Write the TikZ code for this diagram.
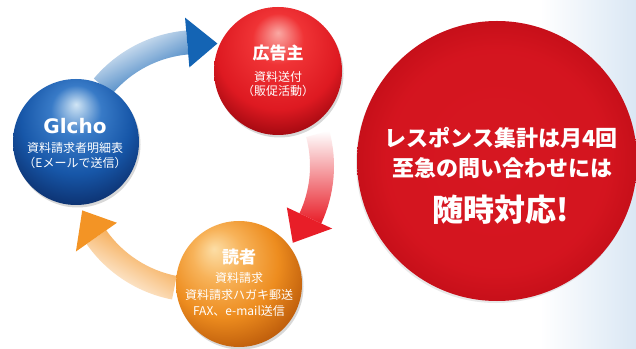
\documentclass[tikz,border=0pt]{standalone}
\usepackage{fontspec}
\setmainfont{Noto Sans CJK JP}
\newfontfamily\jph{Noto Sans CJK JP}[RawFeature=+halt]
\newfontfamily\logofont{DejaVu Sans}
\usetikzlibrary{shadows}
\definecolor{arblue}{RGB}{20,100,180}
\definecolor{arred}{RGB}{232,30,40}
\definecolor{arorange}{RGB}{243,148,37}
\definecolor{bigred}{RGB}{212,22,32}
\definecolor{bgblue}{RGB}{218,231,244}
\pgfdeclareradialshading{redball}{\pgfpoint{0bp}{15bp}}{%
  rgb(0bp)=(0.98,0.66,0.64);
  rgb(10bp)=(0.94,0.20,0.21);
  rgb(24bp)=(0.87,0.10,0.13);
  rgb(33bp)=(0.62,0.03,0.06);
  rgb(41bp)=(0.42,0,0.02);
  rgb(60bp)=(0.42,0,0.02)}
\pgfdeclareradialshading{blueball}{\pgfpoint{0bp}{15bp}}{%
  rgb(0bp)=(0.82,0.90,0.96);
  rgb(10bp)=(0.22,0.48,0.78);
  rgb(22bp)=(0.09,0.34,0.66);
  rgb(32bp)=(0.05,0.20,0.45);
  rgb(41bp)=(0.02,0.12,0.32);
  rgb(60bp)=(0.02,0.12,0.32)}
\pgfdeclareradialshading{orangeball}{\pgfpoint{-10bp}{14bp}}{%
  rgb(0bp)=(0.99,0.87,0.65);
  rgb(10bp)=(0.97,0.70,0.35);
  rgb(22bp)=(0.93,0.55,0.12);
  rgb(32bp)=(0.76,0.38,0.05);
  rgb(44bp)=(0.55,0.25,0.02);
  rgb(60bp)=(0.55,0.25,0.02)}
\pgfdeclareradialshading{bigredshade}{\pgfpoint{0bp}{0bp}}{%
  rgb(0bp)=(0.84,0.09,0.13);
  rgb(20bp)=(0.83,0.08,0.12);
  rgb(25bp)=(0.78,0.06,0.10);
  rgb(50bp)=(0.78,0.06,0.10)}
\tikzset{
  ball/.style={circle, inner sep=0pt, minimum size=#1,
    drop shadow={opacity=0.25, fill=black!60, shadow xshift=1.5pt, shadow yshift=-2.5pt}},
  head/.style={font=\bfseries\fontsize{17pt}{19pt}\selectfont, text=white, inner sep=0pt},
  sub/.style={font=\fontsize{12pt}{14pt}\selectfont, text=white, inner sep=0pt},
  subh/.style={font=\jph\fontsize{12pt}{14pt}\selectfont, text=white, inner sep=0pt},
  big/.style={font=\bfseries\fontsize{22pt}{24pt}\selectfont, text=white, inner sep=0pt},
}
\begin{document}
\begin{tikzpicture}[x=1pt,y=1pt]
\useasboundingbox (0,0) rectangle (636,348);
\fill[white] (0,0) rectangle (636,348);
\shade[left color=white, right color=bgblue] (540,0) rectangle (636,348);

% arrows (arcs around the cycle centre)
\begin{scope}[shift={(198,182)}]
  \shade[left color=white, middle color=arblue!60!white, right color=arblue, shading angle=27]
    (140:112) arc[start angle=140, end angle=95, radius=112]
    -- (95:136) arc[start angle=95, end angle=140, radius=136] -- cycle;
  \fill[arblue] (95:99) -- (81:124) -- (95:149) -- cycle;
  \shade[top color=white, middle color=arred!72!white, bottom color=arred]
    (15:112) arc[start angle=15, end angle=-25, radius=112]
    -- (-25:136) arc[start angle=-25, end angle=15, radius=136] -- cycle;
  \fill[arred] (-25:98) -- (-39:122) -- (-25:148) -- cycle;
  \shade[left color=arorange, middle color=arorange!65!white, right color=white, shading angle=-30]
    (-101:112) arc[start angle=-101, end angle=-145, radius=112]
    -- (-145:136) arc[start angle=-145, end angle=-101, radius=136] -- cycle;
  \fill[arorange] (-145:99) -- (-159:124) -- (-145:149) -- cycle;
\end{scope}

% balls
\node[ball=126pt, shading=blueball] (glcho) at (76,206) {};
\node[ball=128pt, shading=redball] (ad) at (278,277) {};
\node[ball=126pt, shading=orangeball] (reader) at (239,64) {};
\node[circle, inner sep=0pt, minimum size=280pt, shading=bigredshade,
  drop shadow={opacity=0.15, fill=black!60, shadow xshift=-1pt, shadow yshift=-2pt}] (big) at (497,187) {};

% texts
\node[font=\logofont\bfseries\fontsize{20pt}{22pt}\selectfont, text=white, inner sep=0pt] (t1) at (75,222) {Glcho};
\node[sub] (t2) at (75,200) {資料請求者明細表};
\node[subh] (t3) at (75,185) {（Eメールで送信）};

\node[head] (t4) at (278,295) {広告主};
\node[sub] (t5) at (278,271) {資料送付};
\node[subh] (t6) at (278,257) {（販促活動）};

\node[head] (t7) at (239,91) {読者};
\node[sub] (t8) at (239,70) {資料請求};
\node[sub] (t9) at (239,53) {資料請求ハガキ郵送};
\node[sub] (t10) at (239,37) {FAX、e-mail送信};

\node[big] (b1) at (501,210) {レスポンス集計は月4回};
\node[big] (b2) at (502,180) {至急の問い合わせには};
\node[big, font=\bfseries\fontsize{31pt}{33pt}\selectfont] (b3) at (501,138) {随時対応!};
\end{tikzpicture}
\end{document}
